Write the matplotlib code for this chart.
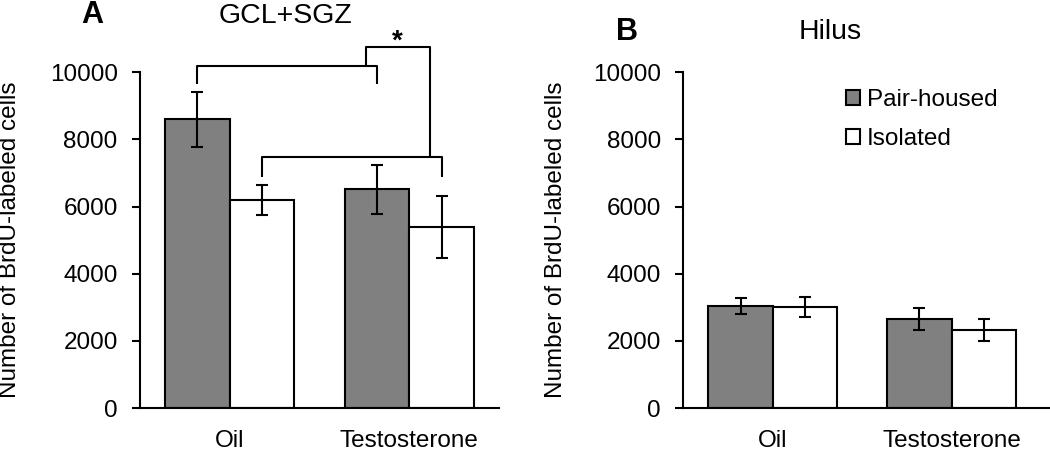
import matplotlib
matplotlib.use("Agg")
import matplotlib.pyplot as plt
import numpy as np

plt.rcParams["font.family"] = ["Liberation Sans", "DejaVu Sans"]

groups = ["Oil", "Testosterone"]
series = ["Pair-housed", "Isolated"]

# panel A: GCL+SGZ
gcl_pair = [8600, 6510]
gcl_pair_err = [820, 720]
gcl_iso = [6200, 5400]
gcl_iso_err = [450, 920]

# panel B: Hilus
hil_pair = [3040, 2650]
hil_pair_err = [250, 340]
hil_iso = [3010, 2330]
hil_iso_err = [300, 320]

# significance brackets (panel A)
bracket_low = [10200, 9660]    # pair-housed bracket: bar line, leg ends
bracket_high = [7480, 6890]    # isolated bracket: bar line, leg ends
bracket_top = 10740
star_y = 10900

W = 0.36
GRAY = "#808080"
LW = 1.5
FS = 17.5


def draw_panel(ax, pair, pair_err, iso, iso_err, xmax):
    x = np.arange(len(groups))
    ax.bar(x - W / 2, pair, W, color=GRAY, edgecolor="black", linewidth=LW,
           label=series[0], zorder=2)
    ax.bar(x + W / 2, iso, W, color="white", edgecolor="black", linewidth=LW,
           label=series[1], zorder=2)
    ax.errorbar(x - W / 2, pair, yerr=pair_err, fmt="none", ecolor="black",
                elinewidth=LW, capsize=4, capthick=LW, zorder=3)
    ax.errorbar(x + W / 2, iso, yerr=iso_err, fmt="none", ecolor="black",
                elinewidth=LW, capsize=4, capthick=LW, zorder=3)
    ax.set_xlim(-0.5, xmax)
    ax.set_ylim(0, 10000)
    ax.set_yticks(range(0, 10001, 2000))
    ax.set_xticks(x)
    ax.set_xticklabels(groups)
    ax.tick_params(axis="x", length=0, pad=16, labelsize=FS)
    ax.tick_params(axis="y", length=6, width=LW, pad=10, labelsize=FS)
    for s in ("top", "right"):
        ax.spines[s].set_visible(False)
    for s in ("left", "bottom"):
        ax.spines[s].set_linewidth(LW)


fig = plt.figure(figsize=(10.5, 4.54), dpi=100)
axA = fig.add_axes([0.1333, 0.1013, 0.3419, 0.7394])
axB = fig.add_axes([0.6508, 0.1013, 0.3492, 0.7394])

draw_panel(axA, gcl_pair, gcl_pair_err, gcl_iso, gcl_iso_err, 1.5)
draw_panel(axB, hil_pair, hil_pair_err, hil_iso, hil_iso_err, 1.55)

# brackets: legs over the bar centres
xg = np.arange(len(groups))
pl, pr = xg[0] - W / 2, xg[1] - W / 2
il, ir = xg[0] + W / 2, xg[1] + W / 2
kw = dict(color="black", linewidth=LW, clip_on=False, solid_capstyle="butt")
axA.plot([pl, pl, pr, pr], [bracket_low[1], bracket_low[0], bracket_low[0], bracket_low[1]], **kw)
axA.plot([il, il, ir, ir], [bracket_high[1], bracket_high[0], bracket_high[0], bracket_high[1]], **kw)
axA.plot([0.76, 0.76, 1.117, 1.117], [bracket_low[0], bracket_top, bracket_top, bracket_high[0]], **kw)
axA.text(0.935, star_y, "*", ha="center", va="center", fontsize=20, fontweight="bold")

axB.legend(loc="upper left", bbox_to_anchor=(0.385, 1.015), frameon=False,
           fontsize=FS, handlelength=0.55, handleheight=0.55, handletextpad=0.3,
           labelspacing=0.7)

fig.text(92 / 1050, 1 - 15 / 454, "A", fontsize=22, fontweight="bold", ha="center", va="center")
fig.text(286 / 1050, 1 - 16 / 454, "GCL+SGZ", fontsize=20.5, ha="center", va="center")
fig.text(627 / 1050, 1 - 32 / 454, "B", fontsize=22, fontweight="bold", ha="center", va="center")
fig.text(830 / 1050, 1 - 32 / 454, "Hilus", fontsize=20.5, ha="center", va="center")

for xp in (10, 556):
    fig.text(xp / 1050, 1 - 240 / 454, "Number of BrdU-labeled cells", rotation=90,
             fontsize=FS, ha="center", va="center")

fig.savefig("out.png", dpi=100)
